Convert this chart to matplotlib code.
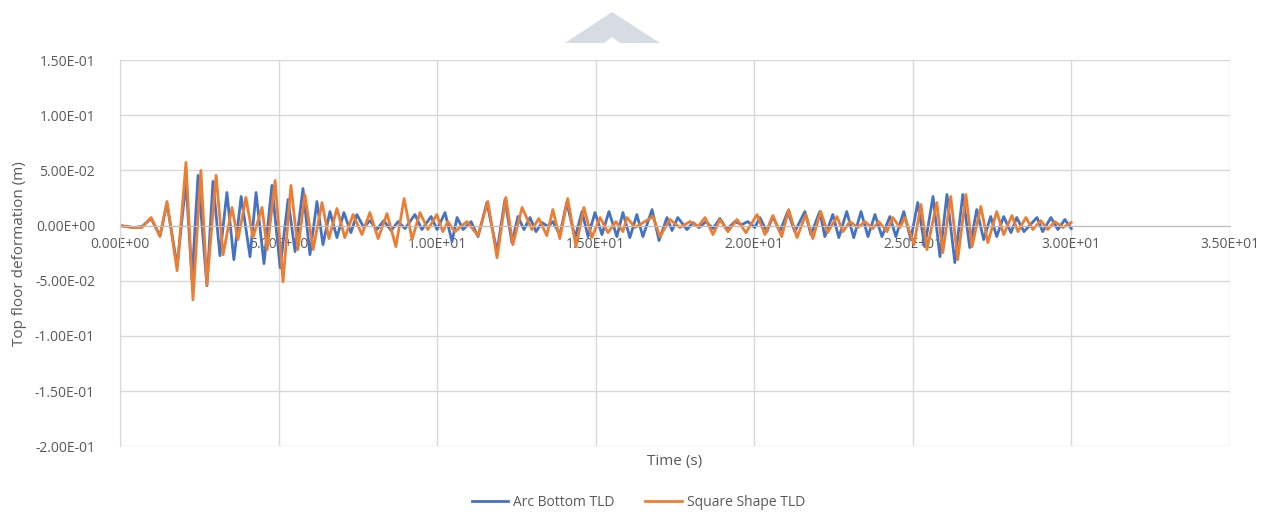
import matplotlib
matplotlib.use('Agg')
import matplotlib.pyplot as plt
from matplotlib.ticker import FuncFormatter, MultipleLocator
from matplotlib.patches import Polygon

plt.rcParams['font.family'] = ['Open Sans', 'DejaVu Sans']

# extrema: time (s), deformation (m)
t_arc = [0.00, 0.41, 0.69, 0.98, 1.26, 1.48, 1.80, 2.08, 2.27, 2.46, 2.74, 2.93, 3.15, 3.37,
         3.59, 3.82, 4.10, 4.29, 4.54, 4.79, 5.05, 5.30, 5.52, 5.77, 5.99, 6.21, 6.40, 6.62,
         6.84, 7.06, 7.28, 7.47, 7.69, 7.88, 8.10, 8.32, 8.55, 8.77, 8.99, 9.30, 9.52, 9.81,
         10.00, 10.25, 10.47, 10.63, 10.82, 11.07, 11.29, 11.57, 11.89, 12.14, 12.36, 12.55,
         12.74, 12.93, 13.12, 13.31, 13.50, 13.65, 13.87, 14.09, 14.35, 14.57, 14.76, 14.98,
         15.20, 15.42, 15.67, 15.86, 16.08, 16.30, 16.49, 16.78, 17.00, 17.25, 17.41, 17.59,
         17.88, 18.07, 18.26, 18.48, 18.70, 18.92, 19.14, 19.39, 19.61, 19.80, 20.02, 20.18,
         20.40, 20.59, 20.81, 21.06, 21.28, 21.60, 21.79, 22.07, 22.23, 22.48, 22.67, 22.92,
         23.14, 23.37, 23.59, 23.81, 24.03, 24.28, 24.47, 24.72, 24.94, 25.16, 25.38, 25.64,
         25.86, 26.08, 26.33, 26.58, 26.80, 27.02, 27.24, 27.46, 27.65, 27.87, 28.10, 28.28,
         28.51, 28.92, 29.10, 29.36, 29.58, 29.80, 30.00]
y_arc = [0.0, -0.0018, -0.0009, 0.0064, -0.0091, 0.0200, -0.0364, 0.0400, -0.0491, 0.0455,
         -0.0545, 0.0400, -0.0273, 0.0300, -0.0309, 0.0264, -0.0282, 0.0300, -0.0345, 0.0364,
         -0.0382, 0.0236, -0.0236, 0.0336, -0.0264, 0.0218, -0.0173, 0.0127, -0.0109, 0.0118,
         -0.0064, 0.0100, -0.0018, 0.0045, -0.0036, 0.0045, -0.0045, 0.0036, -0.0027, 0.0100,
         -0.0036, 0.0082, -0.0036, 0.0118, -0.0145, 0.0073, -0.0036, 0.0036, -0.0100, 0.0209,
         -0.0236, 0.0236, -0.0155, 0.0082, -0.0036, 0.0073, -0.0055, 0.0027, -0.0009, 0.0036,
         -0.0082, 0.0209, -0.0109, 0.0127, -0.0100, 0.0118, -0.0082, 0.0127, -0.0100, 0.0118,
         -0.0109, 0.0100, -0.0100, 0.0145, -0.0136, 0.0073, -0.0045, 0.0073, -0.0036, 0.0027,
         -0.0018, 0.0036, -0.0027, 0.0064, -0.0036, 0.0036, 0.0009, 0.0036, -0.0018, 0.0073,
         -0.0055, 0.0082, -0.0055, 0.0127, -0.0055, 0.0127, -0.0082, 0.0127, -0.0100, 0.0100,
         -0.0109, 0.0127, -0.0109, 0.0127, -0.0100, 0.0100, -0.0100, 0.0082, -0.0100, 0.0127,
         -0.0127, 0.0209, -0.0191, 0.0264, -0.0282, 0.0282, -0.0336, 0.0282, -0.0200, 0.0145,
         -0.0127, 0.0082, -0.0100, 0.0082, -0.0064, 0.0073, -0.0055, 0.0073, -0.0055, 0.0073,
         -0.0036, 0.0055, -0.0027]

t_sq = [0.00, 0.41, 0.69, 0.98, 1.26, 1.48, 1.80, 2.08, 2.30, 2.55, 2.74, 3.03, 3.25, 3.53,
        3.72, 3.97, 4.19, 4.48, 4.64, 4.89, 5.14, 5.39, 5.61, 5.83, 6.09, 6.37, 6.59, 6.84,
        7.09, 7.35, 7.63, 7.88, 8.14, 8.42, 8.70, 8.96, 9.21, 9.46, 9.71, 9.99, 10.18, 10.34,
        10.56, 10.94, 11.29, 11.60, 11.89, 12.17, 12.39, 12.68, 12.99, 13.21, 13.46, 13.65,
        13.87, 14.12, 14.38, 14.63, 14.88, 15.14, 15.39, 15.64, 15.86, 15.99, 16.24, 16.81,
        17.03, 17.34, 17.66, 17.97, 18.23, 18.45, 18.70, 18.92, 19.17, 19.46, 19.74, 20.09,
        20.34, 20.59, 20.87, 21.09, 21.35, 21.63, 21.85, 22.10, 22.32, 22.61, 22.80, 23.02,
        23.27, 23.49, 23.74, 23.93, 24.19, 24.37, 24.60, 24.75, 25.04, 25.26, 25.45, 25.76,
        25.95, 26.20, 26.42, 26.68, 26.87, 27.15, 27.37, 27.65, 27.87, 28.13, 28.32, 28.57,
        28.79, 29.04, 29.26, 29.48, 29.74, 30.00]
y_sq = [0.0, -0.0018, -0.0018, 0.0073, -0.0100, 0.0218, -0.0409, 0.0573, -0.0673, 0.0500,
        -0.0536, 0.0455, -0.0264, 0.0164, -0.0127, 0.0255, -0.0109, 0.0164, -0.0218, 0.0409,
        -0.0509, 0.0364, -0.0218, 0.0282, -0.0218, 0.0209, -0.0118, 0.0155, -0.0109, 0.0100,
        -0.0082, 0.0118, -0.0118, 0.0109, -0.0191, 0.0245, -0.0127, 0.0118, -0.0036, 0.0100,
        -0.0055, 0.0036, -0.0055, 0.0036, -0.0091, 0.0218, -0.0291, 0.0255, -0.0173, 0.0164,
        -0.0036, 0.0064, -0.0091, 0.0145, -0.0118, 0.0245, -0.0191, 0.0164, -0.0109, 0.0073,
        -0.0064, 0.0036, -0.0055, 0.0073, -0.0018, 0.0082, -0.0100, 0.0055, -0.0018, 0.0036,
        -0.0009, 0.0073, -0.0082, 0.0055, -0.0055, 0.0055, -0.0064, 0.0100, -0.0082, 0.0091,
        -0.0100, 0.0145, -0.0109, 0.0100, -0.0118, 0.0127, -0.0064, 0.0082, -0.0055, 0.0036,
        -0.0018, 0.0036, -0.0027, 0.0036, -0.0055, 0.0073, -0.0018, 0.0073, -0.0173, 0.0191,
        -0.0218, 0.0209, -0.0245, 0.0264, -0.0309, 0.0282, -0.0191, 0.0173, -0.0155, 0.0127,
        -0.0082, 0.0091, -0.0055, 0.0073, -0.0036, 0.0045, -0.0036, 0.0036, -0.0018, 0.0027]

series_names = ['Arc Bottom TLD', 'Square Shape TLD']
series_colors = ['#4472C4', '#ED7D31']

fig = plt.figure(figsize=(12.77, 5.14), dpi=100)
ax = fig.add_axes([0.094, 0.132, 0.869, 0.751])

ax.plot(t_arc, y_arc, color=series_colors[0], lw=2.0, label=series_names[0])
ax.plot(t_sq, y_sq, color=series_colors[1], lw=2.0, label=series_names[1])

ax.set_xlim(0, 35)
ax.set_ylim(-0.2, 0.15)
ax.xaxis.set_major_locator(MultipleLocator(5))
ax.yaxis.set_major_locator(MultipleLocator(0.05))
fmt = FuncFormatter(lambda v, p: f"{v:.2E}")
ax.xaxis.set_major_formatter(fmt)
ax.yaxis.set_major_formatter(fmt)

ax.grid(True, color='#d9d9d9', lw=1)
ax.set_axisbelow(True)
for s in ['top', 'right']:
    ax.spines[s].set_visible(False)
ax.spines['left'].set_color('#d9d9d9')
ax.spines['bottom'].set_position(('data', 0))
ax.spines['bottom'].set_color('#bfbfbf')
ax.tick_params(length=0, colors='#595959', labelsize=10)
ax.tick_params(axis='y', pad=18)
ax.tick_params(axis='x', pad=8)

ax.set_xlabel('Time (s)', fontsize=11, color='#595959')
ax.xaxis.set_label_coords(0.5, -0.02)
ax.set_ylabel('Top floor deformation (m)', fontsize=11, color='#595959')
ax.yaxis.set_label_coords(-0.084, 0.5)

fig.legend(loc='center', bbox_to_anchor=(0.5, 0.022), ncol=2, frameon=False,
           fontsize=10, labelcolor='#595959', handlelength=2.6, handletextpad=0.4,
           columnspacing=2.2)

# light grey shape at the top of the picture
fig.patches.append(Polygon([(565 / 1277, 1 - 43 / 514), (612 / 1277, 1 - 12 / 514),
                            (660 / 1277, 1 - 43 / 514), (620 / 1277, 1 - 43 / 514),
                            (612 / 1277, 1 - 37 / 514), (604 / 1277, 1 - 43 / 514)],
                           closed=True, transform=fig.transFigure, facecolor='#d6dce3',
                           edgecolor='none'))

fig.savefig('out.png', dpi=100)
